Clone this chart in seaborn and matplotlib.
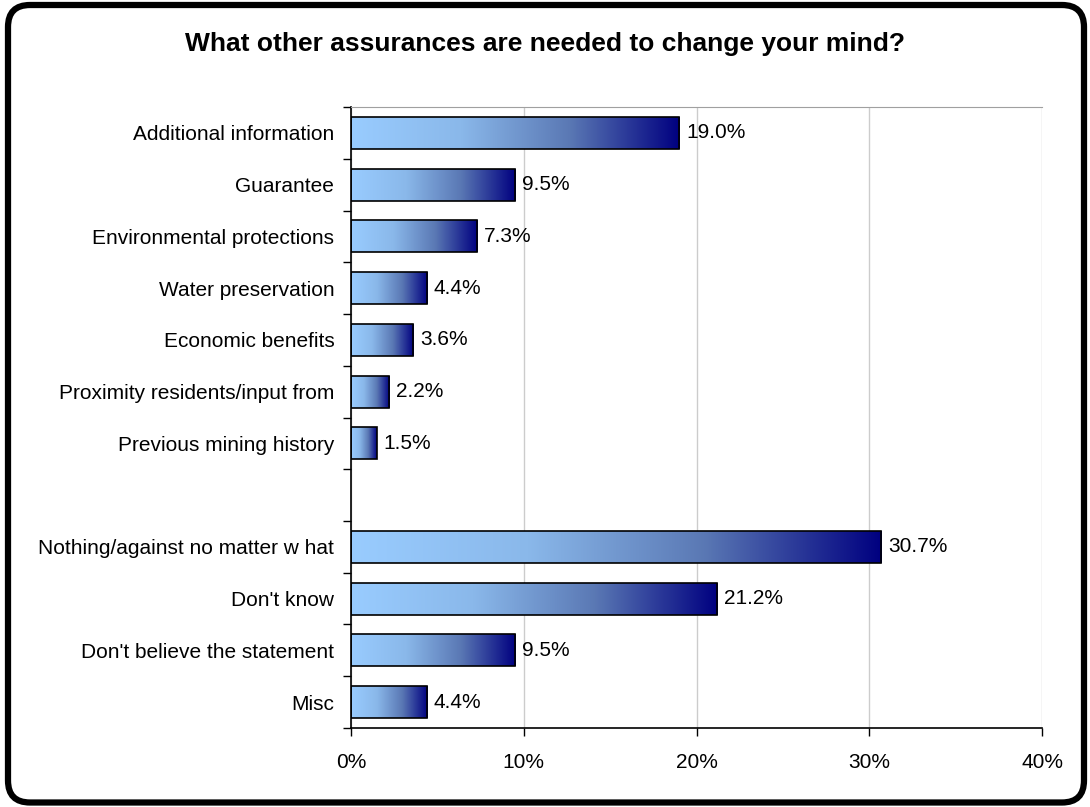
import numpy as np
import pandas as pd
import seaborn as sns
import matplotlib.pyplot as plt
from matplotlib.patches import FancyBboxPatch
from matplotlib.colors import LinearSegmentedColormap

# Chart data (blank slot separates the two groups)
categories = ["Additional information", "Guarantee", "Environmental protections",
              "Water preservation", "Economic benefits", "Proximity residents/input from",
              "Previous mining history", " ", "Nothing/against no matter w hat",
              "Don't know", "Don't believe the statement", "Misc"]
values = [19.0, 9.5, 7.3, 4.4, 3.6, 2.2, 1.5, np.nan, 30.7, 21.2, 9.5, 4.4]
x_ticks = [0, 10, 20, 30, 40]
title = "What other assurances are needed to change your mind?"

df = pd.DataFrame({"category": categories, "value": values}).dropna()

sns.set_style("white")
plt.rcParams["font.family"] = ["Liberation Sans", "DejaVu Sans"]
plt.rcParams["text.color"] = "black"
plt.rcParams["xtick.color"] = "black"
plt.rcParams["ytick.color"] = "black"

fig = plt.figure(figsize=(10.9, 8.07), dpi=100)

# Rounded black frame (coordinates in inches)
frame = FancyBboxPatch((0.08, 0.045), 10.76, 7.975, boxstyle="round,pad=0,rounding_size=0.22",
                       transform=fig.dpi_scale_trans, facecolor="white", edgecolor="black",
                       lw=4.5, zorder=1)
fig.patches.append(frame)

ax = fig.add_axes([0.322, 0.0979, 0.634, 0.7695])
ax.set_zorder(2)
ax.patch.set_alpha(0)

sns.barplot(data=df, x="value", y="category", order=categories, orient="h",
            color="#99CCFF", edgecolor="black", linewidth=1.2, width=0.62, ax=ax)

# Horizontal gradient fill for every bar
cmap = LinearSegmentedColormap.from_list("grad", ["#99CCFF", "#8AB8EA", "#5A78B4", "#000080"])
grad = np.linspace(0, 1, 256).reshape(1, -1)
for bar in ax.patches:
    w = bar.get_width()
    if not w or np.isnan(w):
        continue
    x0, y0, h = bar.get_x(), bar.get_y(), bar.get_height()
    img = ax.imshow(grad, cmap=cmap, aspect="auto", extent=[x0, x0 + w, y0 + h, y0],
                    zorder=bar.get_zorder() - 0.1, interpolation="bicubic")
    img.set_clip_path(bar)
    bar.set_facecolor("none")
    bar.set_zorder(3)
    ax.text(x0 + w + 0.4, y0 + h / 2, f"{w:.1f}%", va="center", ha="left", fontsize=15,
            color="black")

ax.set_xlim(0, 40)
ax.set_ylim(len(categories) - 0.5, -0.5)
ax.set_xticks(x_ticks)
ax.set_xticklabels([f"{t}%" for t in x_ticks], fontsize=15, color="black")
ax.set_yticks(range(len(categories)))
ax.set_yticklabels(categories, fontsize=15, color="black")
ax.set_yticks(np.arange(-0.5, len(categories)), minor=True)
ax.tick_params(axis="y", which="major", length=0, pad=12)
ax.tick_params(axis="y", which="minor", left=True, length=6, width=1, color="black")
ax.tick_params(axis="x", bottom=True, length=6, width=1, color="black", pad=12)
ax.set_xlabel("")
ax.set_ylabel("")

ax.grid(axis="x", color="#CCCCCC", linewidth=1)
ax.set_axisbelow(True)
for side in ["left", "bottom"]:
    ax.spines[side].set_color("black")
    ax.spines[side].set_linewidth(1.2)
    ax.spines[side].set_visible(True)
ax.spines["top"].set_visible(True)
ax.spines["top"].set_color("#A0A0A0")
ax.spines["right"].set_visible(False)

fig.text(0.5, 0.945, title, ha="center", va="center", fontsize=19, fontweight="bold",
         color="black")

fig.savefig("out.png", dpi=100)
